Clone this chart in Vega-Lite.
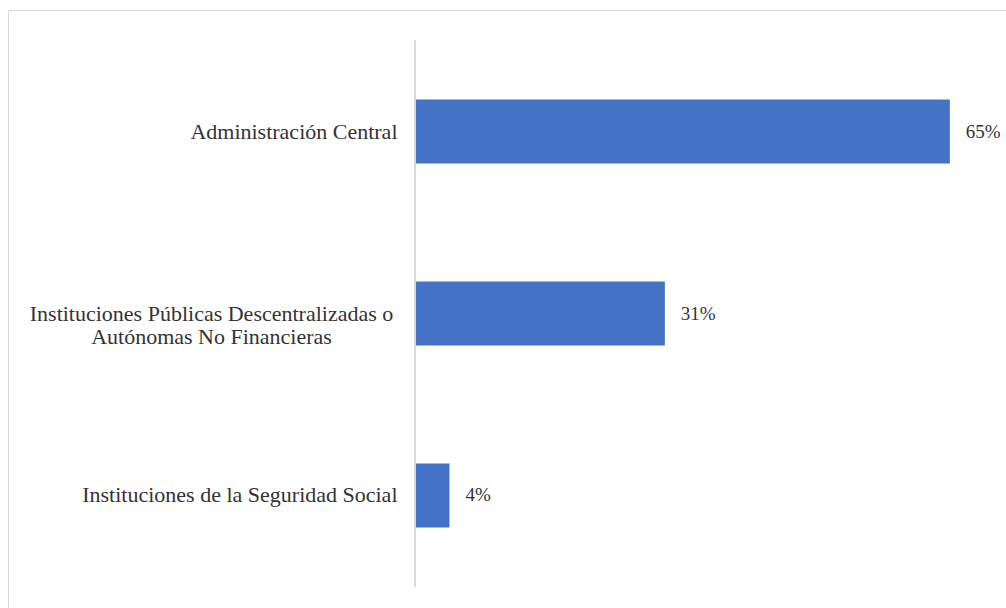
{
  "$schema": "https://vega.github.io/schema/vega-lite/v6.json",
  "autosize": "none",
  "width": 1000,
  "height": 607,
  "padding": {"left": 8, "top": 10, "right": 0, "bottom": 0},
  "background": "white",
  "config": {
    "view": {"stroke": "#d9d9d9", "strokeWidth": 1},
    "font": "Liberation Serif"
  },
  "data": {
    "values": [
      {"sector": "Administración Central", "value": 65.3, "label": "65%"},
      {"sector": "Instituciones Públicas Descentralizadas o Autónomas No Financieras", "value": 30.5, "label": "31%"},
      {"sector": "Instituciones de la Seguridad Social", "value": 4.2, "label": "4%"}
    ]
  },
  "encoding": {
    "y": {
      "field": "sector",
      "type": "nominal",
      "sort": null,
      "scale": {"paddingInner": 0.648, "paddingOuter": 0.4916},
      "axis": {
        "title": null,
        "ticks": false,
        "domain": false,
        "offset": -407,
        "labelFontSize": 22,
        "labelColor": "#333333",
        "labelLimit": 500,
        "labelFont": "Liberation Serif",
        "labelLineHeight": 23,
        "labelExpr": "datum.value == 'Instituciones Públicas Descentralizadas o Autónomas No Financieras' ? ['Instituciones Públicas Descentralizadas o', 'Autónomas No Financieras'] : datum.label",
        "labelAlign": {"condition": {"test": "datum.value == 'Instituciones Públicas Descentralizadas o Autónomas No Financieras'", "value": "center"}, "value": "right"},
        "labelPadding": {"condition": {"test": "datum.value == 'Instituciones Públicas Descentralizadas o Autónomas No Financieras'", "value": 204}, "value": 18}
      }
    }
  },
  "layer": [
    {
      "mark": {"type": "bar", "color": "#4472C4"},
      "encoding": {
        "x": {"field": "value", "type": "quantitative", "scale": {"domain": [-49.7, 72.4], "zero": false, "nice": false}, "axis": null}
      }
    },
    {
      "mark": {"type": "rule", "color": "#d9d9d9", "strokeWidth": 1.5},
      "encoding": {
        "x": {"datum": 0, "type": "quantitative"},
        "y": {"datum": "Administración Central", "bandPosition": -0.92},
        "y2": {"datum": "Instituciones de la Seguridad Social", "bandPosition": 1.92}
      }
    },
    {
      "mark": {"type": "text", "align": "left", "dx": 16, "fontSize": 19, "color": "#333333", "font": "Liberation Serif"},
      "encoding": {
        "x": {"field": "value", "type": "quantitative"},
        "text": {"field": "label"}
      }
    }
  ]
}
